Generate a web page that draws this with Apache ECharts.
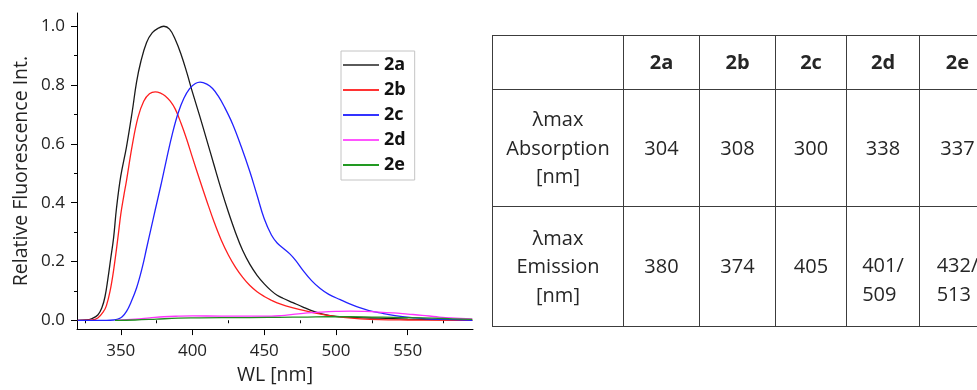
<!DOCTYPE html>
<html>
<head>
<meta charset="utf-8">
<script src="https://cdn.jsdelivr.net/npm/echarts@6/dist/echarts.min.js"></script>
<style>
  html, body { margin: 0; padding: 0; background: #fff; overflow: hidden; }
  #wrap { position: relative; width: 977px; height: 390px; overflow: hidden; }
  #chart { position: absolute; left: 0; top: 0; width: 977px; height: 390px; }
  #tbl { position: absolute; left: 492px; top: 35px; border-collapse: collapse; table-layout: fixed;
         font-family: "Open Sans", sans-serif; font-size: 20px; color: #262626; }
  #tbl td { border: 1px solid #3c3c3c; text-align: center; vertical-align: middle; padding: 0; line-height: 28.5px; }
  #tbl .hd { font-weight: bold; }
  #tbl .two { display: inline-block; text-align: left; position: relative; top: 13px; }
</style>
</head>
<body>
<div id="wrap">
  <div id="chart"></div>
  <table id="tbl"></table>
</div>
<script>
// ---- data ----
const seriesNames = ['2a', '2b', '2c', '2d', '2e'];

const wl2a = [320, 326, 330, 334, 337, 339, 341, 343, 345, 347, 350, 354, 358, 361, 364, 368, 372, 376, 380, 384, 388, 392, 396, 400, 405, 410, 415, 420, 425, 430, 435, 440, 445, 450, 455, 459, 463, 470, 477, 484, 490, 500, 515, 530, 550, 570, 595];
const v2a  = [0, 0.001, 0.006, 0.018, 0.045, 0.08, 0.14, 0.21, 0.28, 0.38, 0.49, 0.59, 0.71, 0.81, 0.88, 0.945, 0.978, 0.993, 1.0, 0.99, 0.955, 0.905, 0.843, 0.775, 0.695, 0.612, 0.528, 0.445, 0.368, 0.298, 0.237, 0.19, 0.153, 0.124, 0.1, 0.085, 0.075, 0.06, 0.045, 0.031, 0.022, 0.013, 0.009, 0.007, 0.004, 0.002, 0];

const wl2b = [320, 330, 334, 338, 340, 342.5, 345, 348, 350, 352, 354, 358, 362, 366, 370, 374, 378, 381, 384.5, 388, 392, 396, 400, 405, 410, 415, 420, 425, 430, 435, 440, 445, 450, 455, 459, 465, 475, 484, 494, 505, 517, 530, 550, 595];
const v2b  = [0, 0.001, 0.008, 0.03, 0.05, 0.098, 0.17, 0.28, 0.36, 0.42, 0.475, 0.595, 0.69, 0.745, 0.77, 0.777, 0.772, 0.763, 0.745, 0.718, 0.67, 0.615, 0.553, 0.478, 0.405, 0.335, 0.273, 0.222, 0.18, 0.146, 0.118, 0.097, 0.081, 0.068, 0.059, 0.049, 0.036, 0.026, 0.017, 0.01, 0.005, 0.002, 0.001, 0];

const wl2c = [320, 340, 345, 348, 351, 354, 357, 361, 365, 368, 371, 374, 378, 382, 386, 390, 394, 398, 402, 405.3, 410, 414, 418, 422, 428, 434, 440, 445, 450, 455, 459, 463, 468, 472, 477, 483, 489, 495, 503, 510, 517, 523, 531, 537, 545, 553, 563, 575, 595];
const v2c  = [0, 0, 0.001, 0.004, 0.012, 0.03, 0.06, 0.11, 0.18, 0.245, 0.31, 0.375, 0.46, 0.55, 0.635, 0.705, 0.755, 0.788, 0.805, 0.81, 0.803, 0.788, 0.762, 0.728, 0.667, 0.59, 0.505, 0.425, 0.345, 0.29, 0.263, 0.246, 0.225, 0.203, 0.17, 0.135, 0.108, 0.088, 0.07, 0.055, 0.042, 0.033, 0.025, 0.019, 0.013, 0.009, 0.005, 0.003, 0];

const wl2d = [347, 360, 370, 380, 390, 400, 420, 440, 455, 462, 470, 480, 490, 500, 510, 520, 530, 540, 550, 560, 570, 580, 595];
const v2d  = [0, 0.004, 0.008, 0.012, 0.014, 0.015, 0.014, 0.014, 0.014, 0.016, 0.02, 0.025, 0.028, 0.03, 0.031, 0.03, 0.028, 0.025, 0.021, 0.017, 0.012, 0.008, 0.005];

const wl2e = [346, 360, 375, 390, 400, 420, 440, 460, 480, 495, 510, 525, 540, 560, 575, 595];
const v2e  = [0, 0.001, 0.004, 0.007, 0.008, 0.009, 0.009, 0.01, 0.011, 0.012, 0.012, 0.011, 0.01, 0.008, 0.006, 0.003];

const xMajorTicks = [350, 400, 450, 500, 550];
const xMinorTicks = [325, 375, 425, 475, 525, 575];
const yMajorTicks = [0, 0.2, 0.4, 0.6, 0.8, 1.0];
const yMinorTicks = [0.1, 0.3, 0.5, 0.7, 0.9];

const tableCols = ['2a', '2b', '2c', '2d', '2e'];
const absLabel = ['λmax', 'Absorption', '[nm]'];
const emLabel = ['λmax', 'Emission', '[nm]'];
const absMax = ['304', '308', '300', '338', '337'];
const emMax = ['380', '374', '405', '401/509', '432/513'];

// ---- table ----
(function buildTable() {
  const colW = [131, 76, 76, 71, 73, 76];
  const rowH = [54, 117, 120];
  const t = document.getElementById('tbl');
  t.style.width = colW.reduce((a, b) => a + b, 0) + 'px';
  const cg = document.createElement('colgroup');
  colW.forEach(w => { const c = document.createElement('col'); c.style.width = w + 'px'; cg.appendChild(c); });
  t.appendChild(cg);
  function row(h, cells) {
    const tr = document.createElement('tr');
    tr.style.height = h + 'px';
    cells.forEach(c => { const td = document.createElement('td'); td.innerHTML = c.html; if (c.cls) td.className = c.cls; tr.appendChild(td); });
    t.appendChild(tr);
  }
  row(rowH[0], [{ html: '' }].concat(tableCols.map(c => ({ html: c, cls: 'hd' }))));
  row(rowH[1], [{ html: absLabel.join('<br>') }].concat(absMax.map(v => ({ html: v }))));
  row(rowH[2], [{ html: emLabel.join('<br>') }].concat(emMax.map(v => {
    const parts = v.split('/');
    if (parts.length > 1) return { html: '<span class="two">' + parts[0] + '/<br>' + parts[1] + '</span>' };
    return { html: v };
  })));
})();

// ---- chart ----
const colors = ['#1a1a1a', '#ff1f1f', '#2222ff', '#ff33ff', '#1f8f1f'];
const wls = [wl2a, wl2b, wl2c, wl2d, wl2e];
const vals = [v2a, v2b, v2c, v2d, v2e];
const legendLineColors = ['#5a5a5a', '#ff3333', '#3333ff', '#ff55ff', '#229922'];

const chart = echarts.init(document.getElementById('chart'), null, { renderer: 'canvas' });
const font = '"Open Sans", sans-serif';
const xMin = 319.5, xMax = 595.5, yMin = -0.03, yMax = 1.045;

chart.setOption({
  animation: false,
  backgroundColor: '#fff',
  grid: { left: 77, top: 13, right: 504, bottom: 59, containLabel: false },
  legend: {
    orient: 'vertical',
    left: 341, top: 51,
    padding: [5, 9, 6, 2],
    itemGap: 7,
    itemWidth: 36,
    itemHeight: 2,
    icon: 'rect',
    backgroundColor: '#fff',
    borderColor: '#c4c4c4',
    borderWidth: 1,
    textStyle: { fontFamily: font, fontSize: 18, fontWeight: 'bold', color: '#111' },
    data: seriesNames.map((n, i) => ({
      name: n,
      icon: 'rect',
      itemStyle: { color: legendLineColors[i], borderWidth: 0 }
    }))
  },
  xAxis: [{
    type: 'value', min: xMin, max: xMax,
    name: 'WL [nm]', nameLocation: 'middle', nameGap: 32,
    nameTextStyle: { fontFamily: font, fontSize: 19.5, color: '#222' },
    axisLine: { show: true, onZero: false, lineStyle: { color: '#000', width: 1 } },
    axisTick: { show: true, customValues: xMajorTicks, length: 6, lineStyle: { color: '#000' } },
    axisLabel: { customValues: xMajorTicks, margin: 14, fontFamily: font, fontSize: 17, color: '#222' },
    splitLine: { show: false }
  }, {
    type: 'value', min: xMin, max: xMax, position: 'bottom',
    axisLine: { show: false },
    axisTick: { show: true, customValues: xMinorTicks, length: 3, lineStyle: { color: '#000' } },
    axisLabel: { show: false },
    splitLine: { show: false }
  }],
  yAxis: [{
    type: 'value', min: yMin, max: yMax,
    name: 'Relative Fluorescence Int.', nameLocation: 'middle', nameGap: 46,
    nameTextStyle: { fontFamily: font, fontSize: 19.5, color: '#222' },
    axisLine: { show: true, onZero: false, lineStyle: { color: '#000', width: 1 } },
    axisTick: { show: true, customValues: yMajorTicks, length: 6, lineStyle: { color: '#000' } },
    axisLabel: { customValues: yMajorTicks, margin: 12, fontFamily: font, fontSize: 17, color: '#222',
                 formatter: v => Number(v).toFixed(1) },
    splitLine: { show: false }
  }, {
    type: 'value', min: yMin, max: yMax, position: 'left',
    axisLine: { show: false },
    axisTick: { show: true, customValues: yMinorTicks, length: 3, lineStyle: { color: '#000' } },
    axisLabel: { show: false },
    splitLine: { show: false }
  }],
  series: seriesNames.map((n, i) => ({
    name: n,
    type: 'line',
    xAxisIndex: 0, yAxisIndex: 0,
    data: wls[i].map((x, k) => [x, vals[i][k]]),
    symbol: 'none',
    smooth: 0.4,
    lineStyle: { color: colors[i], width: 1.3 },
    itemStyle: { color: colors[i] },
    z: 2 + i
  }))
});
</script>
</body>
</html>
